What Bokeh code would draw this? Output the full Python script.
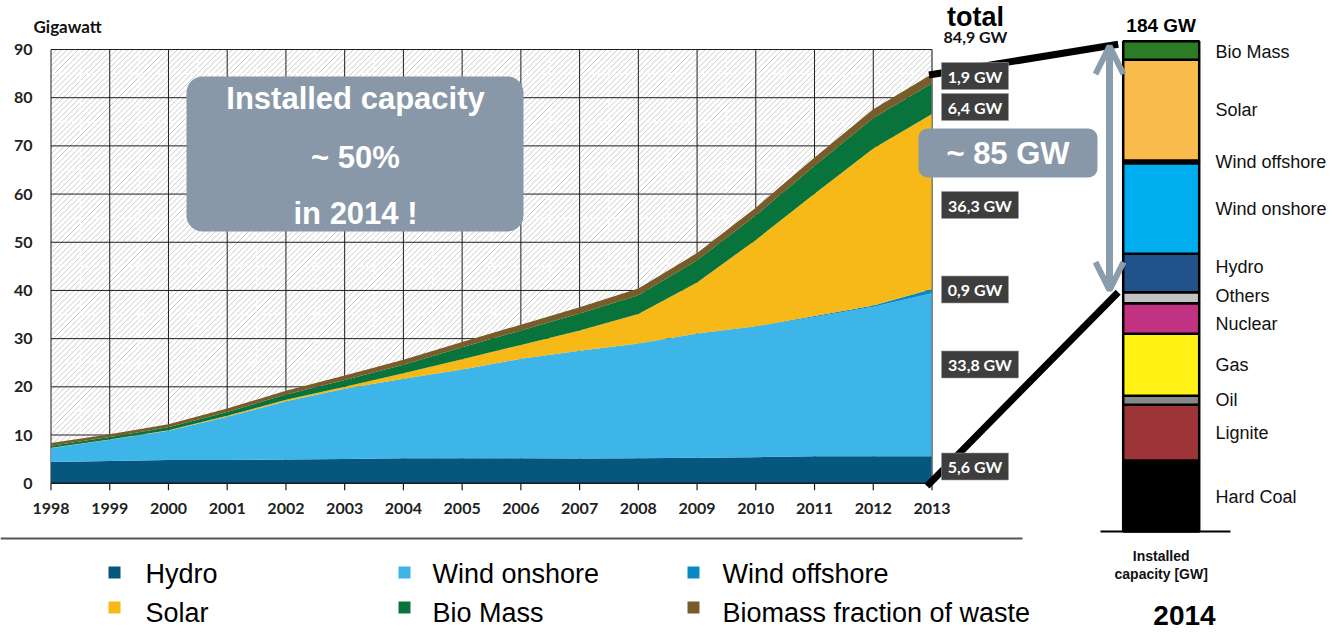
from bokeh.plotting import figure
from bokeh.models import Range1d, ColumnDataSource, Arrow, OpenHead, BoxAnnotation
from bokeh.core.properties import value
from bokeh.embed import file_html
from bokeh.resources import INLINE

# ---------------- data ----------------
years = list(range(1998, 2014))
hydro = [4.4, 4.6, 4.8, 4.8, 4.9, 5.0, 5.2, 5.2, 5.2, 5.1, 5.2, 5.3, 5.4, 5.6, 5.6, 5.6]
wind_onshore = [2.9, 4.4, 6.1, 9.0, 12.1, 14.6, 16.5, 18.4, 20.6, 22.4, 23.8, 25.7, 27.1, 28.9, 31.0, 33.8]
wind_offshore = [0, 0, 0, 0, 0, 0, 0, 0, 0, 0, 0, 0.06, 0.08, 0.19, 0.28, 0.9]
solar = [0.05, 0.07, 0.11, 0.18, 0.3, 0.44, 1.1, 2.1, 2.9, 4.2, 6.1, 10.6, 17.9, 25.4, 32.6, 36.3]
bio_mass = [0.4, 0.5, 0.6, 0.8, 1.1, 1.4, 1.8, 2.5, 3.0, 3.5, 3.9, 4.6, 5.1, 5.8, 6.3, 6.4]
bio_waste = [0.6, 0.6, 0.6, 0.7, 0.8, 0.9, 1.0, 1.1, 1.2, 1.3, 1.4, 1.5, 1.6, 1.7, 1.8, 1.9]

series_names = ["Hydro", "Wind onshore", "Wind offshore", "Solar", "Bio Mass", "Biomass fraction of waste"]
series_keys = ["hydro", "wind_on", "wind_off", "solar", "bio", "waste"]
series_colors = ["#07567e", "#3db5e8", "#0a88c4", "#f6b918", "#08743b", "#7a5b2a"]
value_labels = ["5,6 GW", "33,8 GW", "0,9 GW", "36,3 GW", "6,4 GW", "1,9 GW"]
total_label = "84,9 GW"

y_ticks = [0, 10, 20, 30, 40, 50, 60, 70, 80, 90]

bar_labels = ["Hard Coal", "Lignite", "Oil", "Gas", "Nuclear", "Others", "Hydro",
              "Wind onshore", "Wind offshore", "Solar", "Bio Mass"]
bar_values = [26.6, 21.0, 3.3, 23.3, 11.5, 4.1, 14.4, 34.0, 1.0, 37.8, 7.0]
bar_colors = ["#000000", "#9d3538", "#888888", "#fff214", "#c13282", "#c3c3c3", "#21528a",
              "#00aeef", "#1f3f7a", "#f9bb4b", "#2b7b27"]
bar_total_label = "184 GW"

# ---------------- layout helpers (pixel -> data) ----------------
W, H = 1333, 633
X98, X13 = 50.5, 931.5
Y0, Y90 = 482.7, 49.0
PXY = (X13 - X98) / 15.0
PXG = (Y0 - Y90) / 90.0


def mx(px):
    return 1998 + (px - X98) / PXY


def my(py):
    return (Y0 - py) / PXG


BAR_L, BAR_R, BAR_BASE, BAR_TOP = 1122.7, 1198.7, 531.0, 40.7
BAR_TOTAL = sum(bar_values)
BPX = (BAR_BASE - BAR_TOP) / BAR_TOTAL


def bpy(v):
    return BAR_BASE - v * BPX


def bx(px):
    return (px - (BAR_L + BAR_R) / 2) / (BAR_R - BAR_L)


def by(py):
    return (BAR_BASE - py) / BPX


p = figure(width=W, height=H, title=None,
           x_range=Range1d(mx(0), mx(W)), y_range=Range1d(my(H), my(0)),
           x_axis_type=None, y_axis_type=None, toolbar_location=None,
           output_backend="svg", min_border=0, outline_line_color=None,
           background_fill_color="white", border_fill_color="white")
p.extra_x_ranges = {"bar": Range1d(bx(0), bx(W))}
p.extra_y_ranges = {"bar": Range1d(by(H), by(0))}

FONT_AX = value("Lato")
FONT_AR = value("Liberation Sans")

# ---------------- plot background: white with fine diagonal hatch ----------------
p.quad(left=[years[0]], right=[years[-1]], bottom=[0], top=[y_ticks[-1]],
       fill_color="white", line_color=None)
hx0, hy0, hx1, hy1 = [], [], [], []
STEP = 5.5
cval = X98 + Y90 + STEP
while cval < X13 + Y0:
    xs = max(X98, cval - Y0)
    xe = min(X13, cval - Y90)
    if xe > xs:
        hx0.append(mx(xs)); hy0.append(my(cval - xs))
        hx1.append(mx(xe)); hy1.append(my(cval - xe))
    cval += STEP
p.segment(x0=hx0, y0=hy0, x1=hx1, y1=hy1, line_color="#cdcdcd", line_width=1)

# faint white dashed minor grid
half_years = [y + 0.5 for y in years[:-1]]
p.segment(x0=half_years, y0=[0] * len(half_years), x1=half_years, y1=[90] * len(half_years),
          line_color="white", line_width=1.2, line_dash="4 3")
fives = [t + 5 for t in y_ticks[:-1]]
p.segment(x0=[years[0]] * len(fives), y0=fives, x1=[years[-1]] * len(fives), y1=fives,
          line_color="white", line_width=1.2, line_dash="4 3")

# major grid
p.segment(x0=years, y0=[0] * len(years), x1=years, y1=[y_ticks[-1]] * len(years),
          line_color="#1e1e1e", line_width=1)
p.segment(x0=[years[0]] * len(y_ticks), y0=y_ticks, x1=[years[-1]] * len(y_ticks), y1=y_ticks,
          line_color="#1e1e1e", line_width=1)

# ---------------- stacked areas ----------------
src = ColumnDataSource(dict(year=years, hydro=hydro, wind_on=wind_onshore, wind_off=wind_offshore,
                            solar=solar, bio=bio_mass, waste=bio_waste))
p.varea_stack(stackers=series_keys, x="year", color=series_colors, source=src)

# right border of plot
p.segment(x0=[years[-1]], y0=[0], x1=[years[-1]], y1=[y_ticks[-1]], line_color="#777777", line_width=1)

# x axis line + ticks
p.segment(x0=[years[0]], y0=[0], x1=[years[-1]], y1=[0], line_color="#1a1a1a", line_width=1.6)
p.segment(x0=years, y0=[0] * len(years), x1=years, y1=[my(Y0 + 7)] * len(years),
          line_color="#1a1a1a", line_width=1.2)

# axis labels
p.text(x=years, y=[0] * len(years), text=[str(y) for y in years], y_offset=25,
       text_align="center", text_baseline="middle", text_font=FONT_AX,
       text_font_style="bold", text_font_size="16px", text_color="#222222")
p.text(x=[years[0]] * len(y_ticks), y=y_ticks, text=[str(t) for t in y_ticks], x_offset=-18.5,
       text_align="right", text_baseline="middle", text_font=FONT_AX,
       text_font_style="bold", text_font_size="16px", text_color="#222222")
p.text(x=[mx(33)], y=[my(25.5)], text=["Gigawatt"], text_align="left", text_baseline="middle",
       text_font=FONT_AX, text_font_style="bold", text_font_size="17px", text_color="#111111")

# ---------------- connector lines ----------------
total_2013 = hydro[-1] + wind_onshore[-1] + wind_offshore[-1] + solar[-1] + bio_mass[-1] + bio_waste[-1]
cum_bar = []
c = 0
for v in bar_values:
    c += v
    cum_bar.append(c)
conv_top = cum_bar[bar_labels.index("Others")]

p.segment(x0=[years[-1] - 3 / PXY, years[-1] - 5 / PXY],
          y0=[total_2013 - 0.2, -0.6],
          x1=[mx(BAR_L - 5), mx(BAR_L - 5)],
          y1=[my(bpy(BAR_TOTAL) + 3), my(bpy(conv_top))],
          line_color="black", line_width=7)

# ---------------- value labels at 2013 ----------------
lab_py = [466, 364, 289, 204.5, 106.5, 75.5]
lab_w = [67 if len(t) == 6 else 77 for t in value_labels]
lab_left = [mx(941)] * len(value_labels)
lab_right = [mx(941 + w) for w in lab_w]
lab_top = [my(py - 13.5) for py in lab_py]
lab_bot = [my(py + 13.5) for py in lab_py]
p.quad(left=lab_left, right=lab_right, top=lab_top, bottom=lab_bot,
       fill_color="#3e3e3e", line_color="#9a9a9a", line_width=0.6)
p.text(x=[(l + r) / 2 for l, r in zip(lab_left, lab_right)], y=[my(py) for py in lab_py],
       text=value_labels, text_align="center", text_baseline="middle",
       text_font=FONT_AX, text_font_style="bold", text_font_size="16px", text_color="white")

p.text(x=[mx(975)], y=[my(16)], text=["total"], text_align="center", text_baseline="middle",
       text_font=FONT_AR, text_font_style="bold", text_font_size="27px", text_color="black")
p.text(x=[mx(975)], y=[my(36)], text=[total_label], text_align="center", text_baseline="middle",
       text_font=FONT_AX, text_font_style="bold", text_font_size="16px", text_color="#111111")

# ---------------- stacked bar 2014 ----------------
bar_bottom = [cb - v for cb, v in zip(cum_bar, bar_values)]
bsrc = ColumnDataSource(dict(bottom=bar_bottom, top=cum_bar, color=bar_colors, label=bar_labels,
                             mid=[(b + t) / 2 for b, t in zip(bar_bottom, cum_bar)],
                             off=[1, 0, 0, 0, 6, -2, -6, 0, 0, 0, 1]))
p.quad(left=-0.5, right=0.5, bottom="bottom", top="top", fill_color="color",
       line_color="black", line_width=2.5, source=bsrc,
       x_range_name="bar", y_range_name="bar")
p.segment(x0=[bx(1100)], y0=[0], x1=[bx(1230)], y1=[0], line_color="black", line_width=2,
          x_range_name="bar", y_range_name="bar")
p.text(x=bx(1215), y="mid", text="label", y_offset="off", source=bsrc,
       text_align="left", text_baseline="middle", text_font=FONT_AR, text_font_size="18px",
       text_color="#111111", x_range_name="bar", y_range_name="bar")
p.text(x=[0], y=[BAR_TOTAL], text=[bar_total_label], y_offset=-16, text_align="center",
       text_baseline="middle", text_font=FONT_AR, text_font_style="bold", text_font_size="19px",
       text_color="black", x_range_name="bar", y_range_name="bar")
p.text(x=[0, 0], y=[0, 0], text=["Installed", "capacity [GW]"], y_offset=[24, 42],
       text_align="center", text_baseline="middle", text_font=FONT_AR, text_font_style="bold",
       text_font_size="14px", text_color="#111111", x_range_name="bar", y_range_name="bar")
p.text(x=[bx(1184)], y=[0], text=["2014"], y_offset=84, text_align="center",
       text_baseline="middle", text_font=FONT_AR, text_font_style="bold", text_font_size="28px",
       text_color="black", x_range_name="bar", y_range_name="bar")

# gray double arrow
p.add_layout(Arrow(x_start=mx(1109), y_start=my(bpy(BAR_TOTAL) + 5),
                   x_end=mx(1109), y_end=my(bpy(conv_top) - 2),
                   line_color="#8b9cab", line_width=7,
                   start=OpenHead(size=28, line_color="#8b9cab", line_width=6),
                   end=OpenHead(size=28, line_color="#8b9cab", line_width=6)))

# ---------------- callout boxes ----------------
p.add_layout(BoxAnnotation(left=mx(186), right=mx(523), top=my(76), bottom=my(231),
                           fill_color="#8898a8", fill_alpha=1, line_color=None, border_radius=16))
p.text(x=[mx(355)] * 3, y=[my(98), my(157), my(213)],
       text=["Installed capacity", "~ 50%", "in 2014 !"],
       text_align="center", text_baseline="middle", text_font=FONT_AR, text_font_style="bold",
       text_font_size="31px", text_color="white", level="overlay")
p.add_layout(BoxAnnotation(left=mx(918), right=mx(1097), top=my(128), bottom=my(177),
                           fill_color="#8898a8", fill_alpha=1, line_color=None, border_radius=9))
p.text(x=[mx(1007.5)], y=[my(153)], text=["~ 85 GW"], text_align="center", text_baseline="middle",
       text_font=FONT_AR, text_font_style="bold", text_font_size="31px", text_color="white",
       level="overlay")

# ---------------- legend ----------------
p.segment(x0=[mx(0)], y0=[my(538)], x1=[mx(1022)], y1=[my(538)], line_color="#555555", line_width=2)
leg_mx = [114, 404, 693, 114, 404, 693]
leg_my = [572, 572, 572, 607, 607, 607]
leg_tx = [145, 432, 722, 145, 432, 722]
leg_ty = [573, 573, 573, 612, 612, 612]
p.scatter(x=[mx(v) for v in leg_mx], y=[my(v) for v in leg_my], marker="square", size=12,
          fill_color=series_colors, line_color=None)
p.text(x=[mx(v) for v in leg_tx], y=[my(v) for v in leg_ty], text=series_names,
       text_align="left", text_baseline="middle", text_font=FONT_AR, text_font_size="27px",
       text_color="black")

open("out.html", "w").write(file_html(p, INLINE))
